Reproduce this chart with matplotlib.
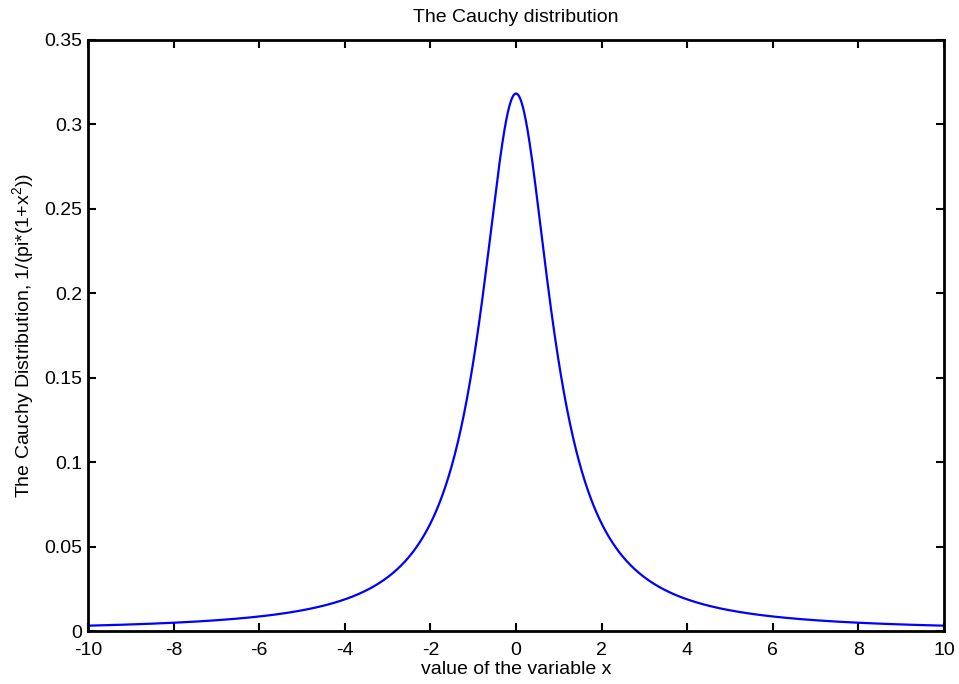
import numpy as np
import matplotlib
matplotlib.use("Agg")
from matplotlib import pyplot

pyplot.rcParams['font.family'] = ['Liberation Sans', 'DejaVu Sans']
pyplot.rcParams['mathtext.fontset'] = 'custom'
pyplot.rcParams['mathtext.rm'] = 'Liberation Sans'
pyplot.rcParams['mathtext.it'] = 'Liberation Sans'
pyplot.rcParams['axes.unicode_minus'] = False

# Cauchy density, as given in the axis label: 1/(pi*(1+x^2))
x_min, x_max = -10, 10
x = np.linspace(x_min, x_max, 2001)
y = 1. / (np.pi * (1 + x**2))

x_ticks = [-10, -8, -6, -4, -2, 0, 2, 4, 6, 8, 10]
y_ticks = [0, 0.05, 0.1, 0.15, 0.2, 0.25, 0.3, 0.35]
y_tick_labels = ["0", "0.05", "0.1", "0.15", "0.2", "0.25", "0.3", "0.35"]

fs = 14
fig = pyplot.figure(figsize=(9.59, 6.84), dpi=100)
ax = fig.add_axes([88/959., 1 - 631/684., (944-88)/959., (631-40)/684.])
ax.plot(x, y, color='b', lw=1.6)
ax.set_xlim(x_min, x_max)
ax.set_ylim(0, 0.35)
ax.set_xticks(x_ticks)
ax.set_yticks(y_ticks)
ax.set_yticklabels(y_tick_labels)
ax.tick_params(direction='in', length=6, width=1.5, labelsize=fs,
               top=True, right=True, pad=4)
ax.tick_params(axis='x', pad=8)
for s in ax.spines.values():
    s.set_linewidth(2)
ax.set_xlabel("value of the variable x", fontsize=fs, labelpad=1)
ax.set_ylabel(r"The Cauchy Distribution, 1/(pi*(1+x$^{2}$))", fontsize=fs, labelpad=6)
# title placed by hand, centred over the axes
fig.text(0.5*(88+944)/959., 1 - 18/684., "The Cauchy distribution",
         fontsize=fs, ha='center', va='center')

pyplot.savefig("out.png", dpi=100)
